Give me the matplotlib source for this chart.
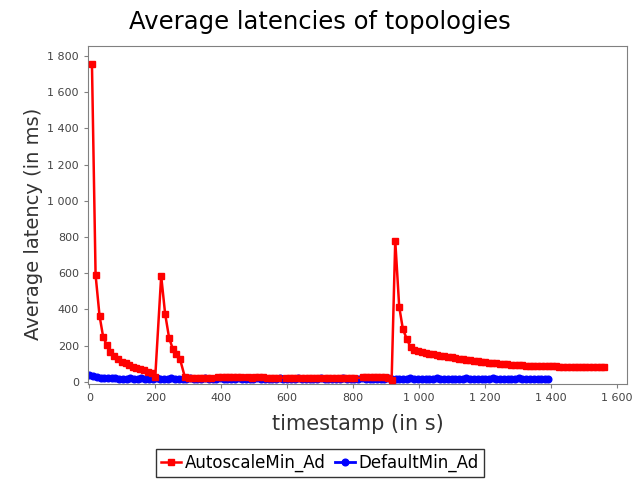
import matplotlib
matplotlib.use('Agg')
import matplotlib.pyplot as plt
from matplotlib.ticker import FuncFormatter, MultipleLocator

# AutoscaleMin_Ad (red)
auto_x = [8, 19, 31, 42, 53, 64, 76, 87, 98, 110, 121, 132, 143, 155, 166, 177, 189, 200,
          218, 230, 242, 253, 264, 275, 290,
          301, 312, 324, 335, 346, 357, 369,
          391, 402, 414, 425, 436, 448, 459,
          482, 493, 504, 516, 527, 538, 550, 561, 572,
          597, 608, 619, 631, 642, 653, 665, 676, 687, 698,
          714, 725, 736, 748, 759, 770, 782, 793, 804,
          829, 840, 851, 863, 874, 885, 897, 906,
          917, 928, 940, 951, 963, 975,
          986, 997, 1009, 1020, 1031, 1043, 1054, 1065, 1077, 1088,
          1099, 1110, 1122, 1133, 1144, 1156, 1167, 1178, 1189, 1201,
          1212, 1223, 1235, 1246, 1257, 1268, 1280, 1291, 1302, 1314,
          1325, 1336, 1347, 1359, 1370, 1381, 1393, 1404, 1415, 1426,
          1438, 1449, 1460, 1472, 1483, 1494, 1505, 1517, 1528, 1539,
          1551, 1562]
auto_y = [1755, 590, 365, 248, 203, 167, 143, 125, 111, 102, 93, 84, 78, 72, 65, 56, 47, 28,
          585, 375, 243, 183, 152, 126, 25,
          22, 21, 22, 20, 21, 22, 21,
          26, 27, 27, 28, 27, 26, 25,
          24, 23, 24, 25, 24, 23, 23, 22, 23,
          22, 22, 23, 22, 21, 22, 22, 21, 22, 21,
          21, 22, 21, 21, 22, 21, 21, 22, 21,
          24, 25, 25, 24, 25, 24, 24, 23,
          8, 780, 415, 293, 236, 190,
          178, 170, 164, 160, 156, 152, 148, 145, 141, 138,
          135, 132, 128, 125, 122, 118, 116, 113, 111, 108,
          106, 104, 102, 100, 98, 97, 95, 94, 92, 91,
          90, 89, 88, 88, 87, 86, 86, 85, 85, 84,
          84, 83, 83, 83, 82, 82, 82, 82, 82, 81,
          81, 81]

# DefaultMin_Ad (blue)
default_x = [0, 11, 23, 34, 45, 56, 68, 79, 90, 102,
             113, 124, 136, 147, 158, 170, 181, 192, 204, 215,
             226, 238, 249, 260, 272, 283, 294, 306, 317, 328,
             340, 351, 362, 374, 385, 396, 408, 419, 430, 442,
             453, 464, 476, 487, 498, 510, 521, 532, 544, 555,
             566, 578, 589, 600, 612, 623, 634, 646, 657, 668,
             680, 691, 702, 714, 725, 736, 748, 759, 770, 782,
             793, 804, 816, 827, 838, 850, 861, 872, 884, 895,
             906, 918, 929, 940, 952, 963, 974, 986, 997, 1008,
             1020, 1031, 1042, 1054, 1065, 1076, 1088, 1099, 1110, 1122,
             1133, 1144, 1156, 1167, 1178, 1190, 1201, 1212, 1224, 1235,
             1246, 1258, 1269, 1280, 1292, 1303, 1314, 1326, 1337, 1348,
             1360, 1371, 1382, 1390]
default_y = [40, 30, 24, 21, 20, 19, 19, 19, 18, 18,
             18, 19, 18, 18, 19, 18, 18, 18, 19, 18,
             18, 18, 19, 18, 18, 18, 18, 19, 18, 18,
             18, 19, 18, 18, 18, 19, 18, 18, 18, 18,
             19, 18, 18, 18, 18, 19, 18, 18, 18, 18,
             18, 19, 18, 18, 18, 18, 19, 18, 18, 18,
             18, 18, 19, 18, 18, 18, 18, 18, 19, 18,
             18, 18, 18, 19, 18, 18, 18, 18, 18, 18,
             19, 18, 18, 18, 18, 18, 19, 18, 18, 18,
             18, 18, 18, 19, 18, 18, 18, 18, 18, 18,
             18, 19, 18, 18, 18, 18, 18, 18, 19, 18,
             18, 18, 18, 18, 18, 19, 18, 18, 18, 18,
             18, 18, 18, 18]

plt.rcParams['font.family'] = ['DejaVu Sans']

fig = plt.figure(figsize=(6.4, 4.8), dpi=100)
ax = fig.add_axes([88 / 640, 96 / 480, 539 / 640, 338 / 480])

ax.plot(default_x, default_y, color='blue', marker='o', markersize=4.8,
        linewidth=2, label='DefaultMin_Ad', zorder=2)
ax.plot(auto_x, auto_y, color='red', marker='s', markersize=5,
        linewidth=1.8, label='AutoscaleMin_Ad', zorder=3)

ax.set_xlim(-4, 1631)
ax.set_ylim(-12, 1855)
ax.xaxis.set_major_locator(MultipleLocator(200))
ax.yaxis.set_major_locator(MultipleLocator(200))
fmt = FuncFormatter(lambda v, p: '{:,}'.format(int(v)).replace(',', ' '))
ax.xaxis.set_major_formatter(fmt)
ax.yaxis.set_major_formatter(fmt)
ax.tick_params(colors='#808080', labelcolor='#444444', labelsize=8, length=3)
for s in ax.spines.values():
    s.set_color('#808080')

fig.text(0.5, 1 - 22 / 480, 'Average latencies of topologies', ha='center', va='center',
         fontsize=17.5)
ax.set_xlabel('timestamp (in s)', fontsize=15, color='#333333', labelpad=8)
ax.set_ylabel('Average latency (in ms)', fontsize=14, color='#333333')
ax.yaxis.set_label_coords(-0.083, 0.473)

handles, labels = ax.get_legend_handles_labels()
leg = fig.legend(handles[::-1], labels[::-1], loc='center', bbox_to_anchor=(0.5, 1 - 463 / 480),
                 ncol=2, fontsize=12, frameon=True, fancybox=False, edgecolor='black',
                 handlelength=1.2, handletextpad=0.2, columnspacing=0.6, borderpad=0.3)
leg.get_frame().set_linewidth(1)

fig.savefig('out.png', dpi=100)
